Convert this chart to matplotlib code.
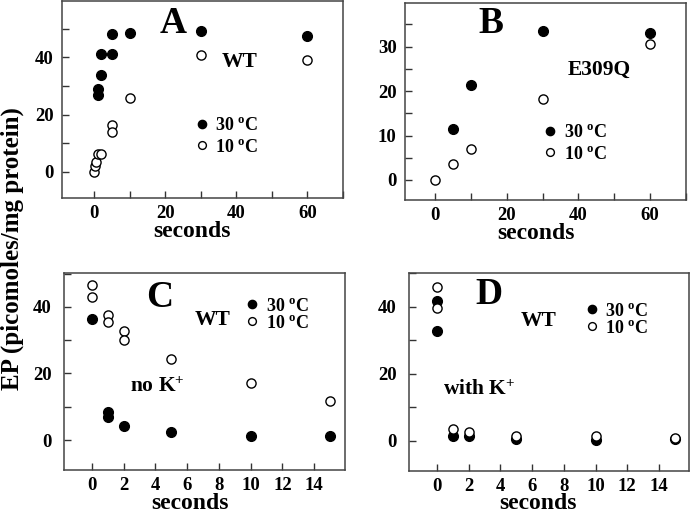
import matplotlib
matplotlib.use("Agg")
import matplotlib.pyplot as plt
from matplotlib.ticker import MultipleLocator

plt.rcParams['font.family'] = ['Liberation Serif', 'DejaVu Serif']
plt.rcParams['font.weight'] = 'bold'
plt.rcParams['axes.labelweight'] = 'bold'
plt.rcParams['mathtext.fontset'] = 'custom'
plt.rcParams['mathtext.rm'] = 'Liberation Serif:bold'
plt.rcParams['mathtext.it'] = 'Liberation Serif:bold'
plt.rcParams['mathtext.bf'] = 'Liberation Serif:bold'

# panel A: WT, 0-60 s
a_x30 = [1, 1, 2, 2, 5, 5, 10, 30, 60]
a_y30 = [29.0, 26.7, 41.2, 33.9, 48.0, 41.2, 48.6, 49.0, 47.4]
a_x10 = [0, 0.2, 0.6, 1, 2, 5, 5, 10, 30, 60]
a_y10 = [0.0, 2.0, 3.5, 6.4, 6.3, 16.2, 13.8, 25.7, 40.8, 39.1]

# panel B: E309Q
b_x30 = [5, 10, 30, 60]
b_y30 = [11.5, 21.4, 33.4, 33.1]
b_x10 = [0, 5, 10, 30, 60]
b_y10 = [0.0, 3.5, 6.9, 18.2, 30.6]

# panel C: WT, no K+
c_x30 = [0, 1, 1, 2, 5, 10, 15]
c_y30 = [36.5, 8.5, 7.0, 4.2, 2.4, 1.3, 1.2]
c_x10 = [0, 0, 1, 1, 2, 2, 5, 10, 15]
c_y10 = [46.5, 43.0, 37.5, 35.5, 32.8, 30.0, 24.5, 17.0, 11.8]

# panel D: WT, with K+
d_x30 = [0, 0, 1, 2, 5, 10, 15]
d_y30 = [41.6, 32.9, 1.3, 1.3, 0.5, 0.4, 0.7]
d_x10 = [0, 0, 1, 2, 5, 10, 15]
d_y10 = [45.9, 39.6, 3.5, 2.6, 1.5, 1.5, 0.9]

lab30 = r'30 $^{\mathrm{o}}$C'
lab10 = r'10 $^{\mathrm{o}}$C'

W, H = 693, 513
fig = plt.figure(figsize=(W / 100, H / 100), dpi=100)


def make_axes(l, r, t, b):
    return fig.add_axes([l / W, 1 - b / H, (r - l) / W, (b - t) / H])


def style(ax, xmaj, xmin, ymaj, ymin, ypad):
    for s in ax.spines.values():
        s.set_color('#444444')
        s.set_linewidth(1.1)
    ax.xaxis.set_major_locator(MultipleLocator(xmaj))
    ax.xaxis.set_minor_locator(MultipleLocator(xmin))
    ax.yaxis.set_major_locator(MultipleLocator(ymaj))
    ax.yaxis.set_minor_locator(MultipleLocator(ymin))
    ax.tick_params(which='both', direction='in', length=5, width=1,
                   color='#333333', top=False, right=False)
    ax.tick_params(axis='x', labelsize=13.5, pad=5)
    ax.tick_params(axis='y', labelsize=13.5, pad=ypad)
    for t in ax.get_xticklabels() + ax.get_yticklabels():
        t.set_fontweight('bold')


def draw(ax, x30, y30, x10, y10):
    h1, = ax.plot(x30, y30, 'o', ms=7, mfc='black', mec='black', mew=1)
    h2, = ax.plot(x10, y10, 'o', ms=6.6, mfc='white', mec='black', mew=1)
    return h1, h2


def legend(ax, handles, x, y, spacing):
    ax.legend(handles, [lab30, lab10], loc='center left',
              bbox_to_anchor=(x, y), frameon=False, fontsize=13,
              handlelength=0.8, handletextpad=0.35, borderpad=0,
              borderaxespad=0, labelspacing=spacing, markerscale=0.85)


def xlabel(ax, x, y):
    ax.set_xlabel('seconds', fontsize=17, fontweight='bold')
    ax.xaxis.label.set_verticalalignment('center')
    ax.xaxis.set_label_coords(x, y)


# A
axA = make_axes(62, 343, 1, 198)
hA = draw(axA, a_x30, a_y30, a_x10, a_y10)
axA.set_xlim(-9, 70)
axA.set_ylim(-9.1, 59.6)
style(axA, 20, 10, 20, 10, 6)
xlabel(axA, 0.463, -0.17)
legend(axA, hA, 0.471, 0.312, 0.25)
axA.text(0.395, 0.888, 'A', transform=axA.transAxes, fontsize=27,
         ha='center', va='center')
axA.text(0.633, 0.69, 'WT', transform=axA.transAxes, fontsize=15.5,
         ha='center', va='center')

# B
axB = make_axes(405, 686, 3, 200)
hB = draw(axB, b_x30, b_y30, b_x10, b_y10)
axB.set_xlim(-8.4, 70)
axB.set_ylim(-4.5, 39.8)
style(axB, 20, 10, 10, 5, 6)
xlabel(axB, 0.466, -0.17)
legend(axB, hB, 0.492, 0.287, 0.25)
axB.text(0.306, 0.898, 'B', transform=axB.transAxes, fontsize=27,
         ha='center', va='center')
axB.text(0.69, 0.66, 'E309Q', transform=axB.transAxes, fontsize=15.5,
         ha='center', va='center')

# C
axC = make_axes(64, 345, 273, 470)
hC = draw(axC, c_x30, c_y30, c_x10, c_y10)
axC.set_xlim(-1.77, 15.95)
axC.set_ylim(-9, 50.2)
style(axC, 2, 2, 20, 10, 9)
xlabel(axC, 0.448, -0.17)
legend(axC, hC, 0.645, 0.788, 0.0)
axC.text(0.342, 0.878, 'C', transform=axC.transAxes, fontsize=27,
         ha='center', va='center')
axC.text(0.53, 0.761, 'WT', transform=axC.transAxes, fontsize=15.5,
         ha='center', va='center')
axC.text(0.331, 0.421, r'no K$^{+}$', transform=axC.transAxes, fontsize=15.5,
         ha='center', va='center')

# D
axD = make_axes(409, 689, 273, 471)
hD = draw(axD, d_x30, d_y30, d_x10, d_y10)
axD.set_xlim(-1.77, 15.9)
axD.set_ylim(-9, 50.1)
style(axD, 2, 2, 20, 10, 9)
xlabel(axD, 0.46, -0.165)
legend(axD, hD, 0.626, 0.765, 0.0)
axD.text(0.286, 0.889, 'D', transform=axD.transAxes, fontsize=27,
         ha='center', va='center')
axD.text(0.464, 0.758, 'WT', transform=axD.transAxes, fontsize=15.5,
         ha='center', va='center')
axD.text(0.25, 0.409, r'with K$^{+}$', transform=axD.transAxes, fontsize=15.5,
         ha='center', va='center')

fig.text(12 / W, 1 - 249 / H, 'EP (picomoles/mg protein)', rotation=90,
         fontsize=18, ha='center', va='center')

fig.savefig('out.png', dpi=100)
